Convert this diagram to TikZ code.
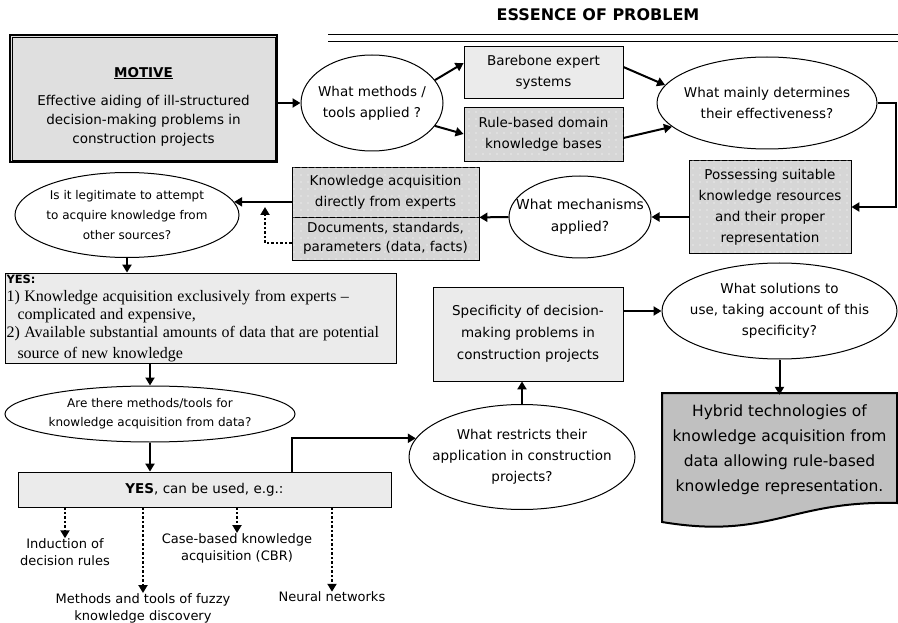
\documentclass[tikz,border=0pt]{standalone}
\usepackage{fontspec}
\setmainfont{DejaVu Sans}
\newfontfamily\serifyes{Liberation Serif}
\usetikzlibrary{shapes.geometric, arrows.meta, patterns.meta, calc}
\definecolor{boxgray}{HTML}{EBEBEB}
\definecolor{dotgray}{HTML}{D6D6D6}
\definecolor{motivegray}{HTML}{DFDFDF}
\definecolor{hybgray}{HTML}{C0C0C0}

\begin{document}
\begin{tikzpicture}[x=1pt,y=-1pt,
  every node/.style={font=\fontsize{13.5}{21}\selectfont,align=center,inner sep=0pt},
  quest/.style={draw,line width=1pt,shape=ellipse,fill=white,inner xsep=-25pt},
  lightbox/.style={draw,line width=0.8pt,fill=boxgray},
  dotbox/.style={draw,line width=0.8pt,fill=dotgray,postaction={pattern={Dots[distance=7pt,radius=0.6pt]},pattern color=white}},
  arr/.style={line width=2pt,-{Triangle[length=8pt,width=9pt]}},
  darr/.style={arr,dash pattern=on 2.5pt off 2pt}]
  \useasboundingbox (0,0) rectangle (898,623);
  \node[font=\bfseries\fontsize{16}{18}\selectfont] (title) at (598,15) {ESSENCE OF PROBLEM};
  \draw[line width=1pt] (328,35) -- (898,35) (328,42) -- (898,42);
  \node[draw,line width=1.5pt,fill=motivegray,minimum width=267pt,minimum height=127pt,font=\fontsize{13.5}{19}\selectfont] (motive) at (143.5,98.5)
    {\rule{0pt}{26pt}\underline{\textbf{MOTIVE}}\\[9pt] Effective aiding of ill-structured\\ decision-making problems in\\ construction projects};
  \draw ($(motive.south west)+(3,-3)$) rectangle ($(motive.north east)+(-3,3)$);
  \node[quest,minimum width=142pt,minimum height=96pt] (meth) at (372,103) {What methods /\\ tools applied ?};
  \node[lightbox,minimum width=159pt,minimum height=52pt] (bare) at (543.5,72) {Barebone expert\\ systems};
  \node[dotbox,minimum width=159pt,minimum height=54pt] (rule) at (543.5,134) {Rule-based domain\\ knowledge bases};
  \node[quest,minimum width=220pt,minimum height=92pt] (eff) at (767,103) {What mainly determines\\ their effectiveness?};
  \node[dotbox,minimum width=162pt,minimum height=93pt] (poss) at (770,207)
    {Possessing suitable\\ knowledge resources\\ and their proper\\ representation};
  \node[quest,minimum width=142pt,minimum height=82pt,font=\fontsize{13.8}{22}\selectfont] (mech) at (580,217) {What mechanisms\\ applied?};
  \node[dotbox,minimum width=187pt,minimum height=50pt] (ka) at (385.5,192) {Knowledge acquisition\\ directly from experts};
  \node[dotbox,minimum width=187pt,minimum height=43pt,font=\fontsize{13.5}{19.5}\selectfont] (docs) at (385.5,238.5) {Documents, standards,\\ parameters (data, facts)};
  \node[quest,minimum width=224pt,minimum height=85pt,font=\fontsize{12}{20}\selectfont] (legit) at (127,215)
    {Is it legitimate to attempt\\ to acquire knowledge from\\ other sources?};
  \node[lightbox,minimum width=391pt,minimum height=90pt,text width=388pt,align=left] (yes1) at (200.5,318)
    {{\bfseries\fontsize{11.5}{14}\selectfont YES:}\\
     \serifyes\fontsize{16}{18}\selectfont 1) Knowledge acquisition exclusively from experts –\\
     \hspace*{11pt}complicated and expensive,\\
     2) Available substantial amounts of data that are potential\\
     \hspace*{11pt}source of new knowledge};
  \node[quest,minimum width=290pt,minimum height=56pt,font=\fontsize{12}{19}\selectfont] (are) at (150,414)
    {Are there methods/tools for\\ knowledge acquisition from data?};
  \node[lightbox,minimum width=373pt,minimum height=35pt] (yes2) at (204.5,489.5) {\textbf{YES}, can be used, e.g.:};
  \node[quest,minimum width=226pt,minimum height=105pt] (restr) at (522,457)
    {What restricts their\\ application in construction\\ projects?};
  \node[lightbox,minimum width=190pt,minimum height=94pt,font=\fontsize{13.5}{22}\selectfont] (spec) at (528,334)
    {Specificity of decision-\\ making problems in\\ construction projects};
  \node[quest,minimum width=235pt,minimum height=96pt] (sol) at (779.5,311)
    {What solutions to\\ use, taking account of this\\ specificity?};
  % document shape
  \draw[line width=2pt,fill=hybgray] (662,393) -- (897,393) -- (897,503)
    .. controls (790,500) and (770,540) .. (662,522) -- cycle;
  \node[minimum width=235pt,minimum height=110pt,font=\fontsize{15.5}{25}\selectfont] (hybrid) at (779.5,450)
    {Hybrid technologies of\\ knowledge acquisition from\\ data allowing rule-based\\ knowledge representation.};
  \node[font=\fontsize{13}{17}\selectfont] (ind) at (65,552) {Induction of\\ decision rules};
  \node[font=\fontsize{13}{17}\selectfont] (fuzzy) at (143,608) {Methods and tools of fuzzy\\ knowledge discovery};
  \node[font=\fontsize{13}{17}\selectfont] (cbr) at (237,548) {Case-based knowledge\\ acquisition (CBR)};
  \node[font=\fontsize{13}{17}\selectfont] (nn) at (332,597) {Neural networks};
  % connectors
  \draw[arr] (motive.east |- meth.west) -- (meth.west);
  \draw[arr] (meth.20) -- ([yshift=9pt]bare.west);
  \draw[arr] (meth.-20) -- (rule.west);
  \draw[arr] ([yshift=5pt]bare.east) -- (eff.170);
  \draw[arr] ([yshift=-4pt]rule.east) -- (eff.194);
  \draw[arr] (eff.east) -- ++(18,0) |- (poss.east);
  \draw[arr] (poss.west |- mech.east) -- (mech.east);
  \draw[arr] (mech.west) -- (ka.south east);
  \draw[arr] (ka.west |- legit.7) -- (legit.7);
  \coordinate (dtip) at (265,207);
  \draw[darr] ([yshift=-4.5pt]docs.west) -| (dtip);
  \draw[arr] (legit.south) -- (legit.south |- yes1.north);
  \draw[arr] (are.north |- yes1.south) -- (are.north);
  \draw[arr] (are.south) -- (are.south |- yes2.north);
  \draw[arr] ([xshift=-99pt]yes2.north east) |- (restr.170);
  \draw[arr] (restr.north) -- (restr.north |- spec.south);
  \draw[arr] (spec.east |- sol.west) -- (sol.west);
  \draw[arr] (sol.south) -- (hybrid.north);
  \draw[darr] (ind.north |- yes2.south) -- (ind.north);
  \draw[darr] (fuzzy.north |- yes2.south) -- (fuzzy.north);
  \draw[darr] (cbr.north |- yes2.south) -- (cbr.north);
  \draw[darr] (nn.north |- yes2.south) -- (nn.north);
\end{tikzpicture}
\end{document}
